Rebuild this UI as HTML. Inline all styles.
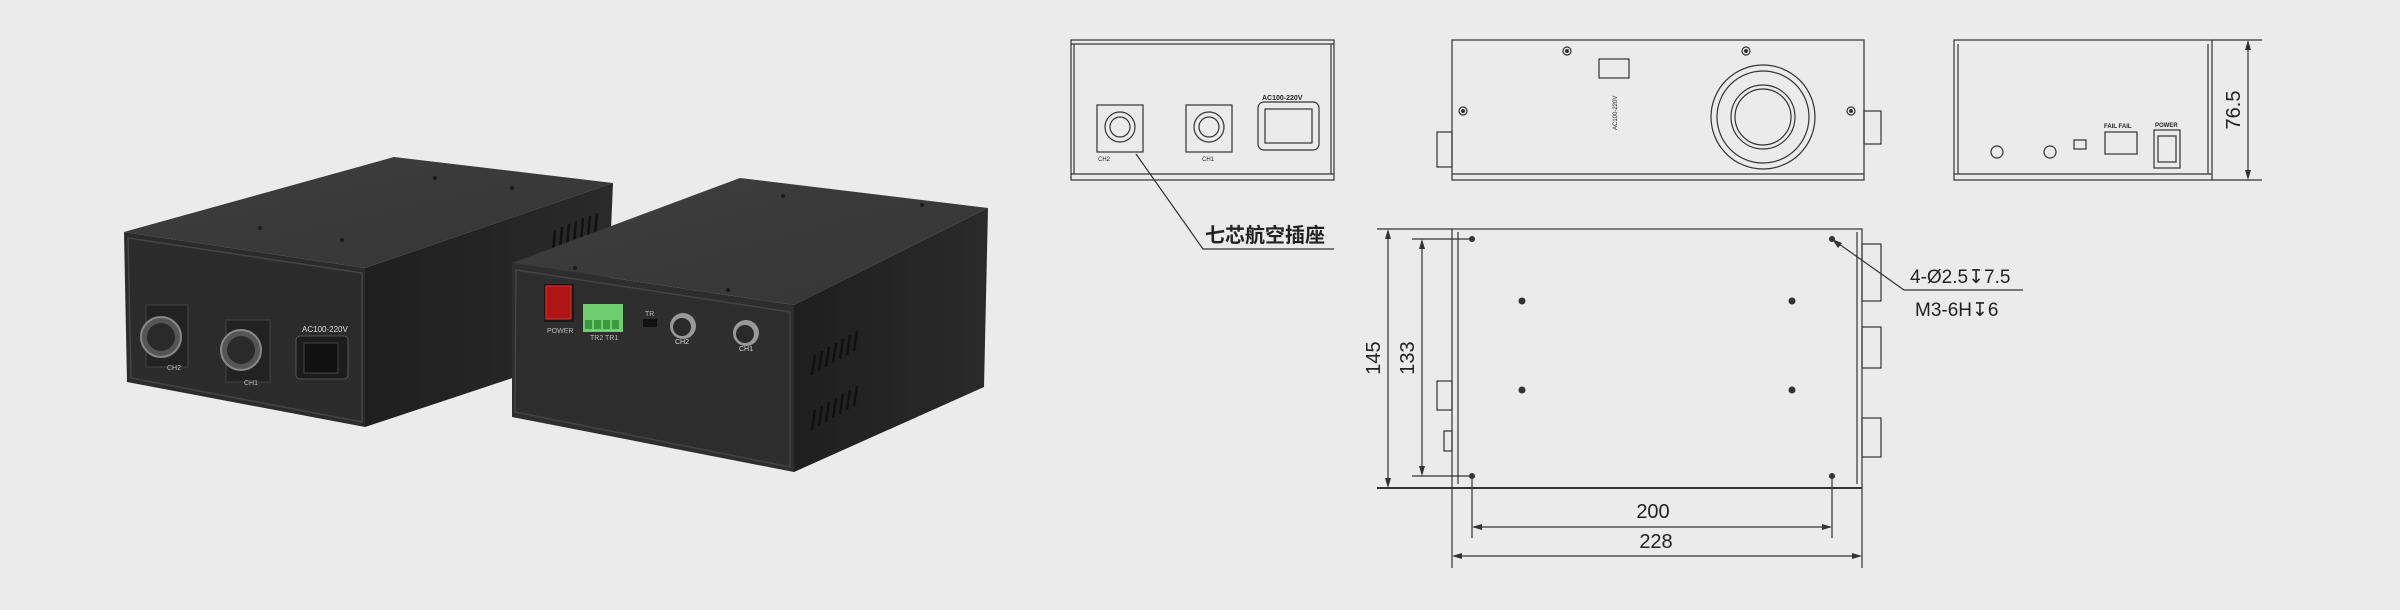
<!DOCTYPE html>
<html><head><meta charset="utf-8"><style>
html,body{margin:0;padding:0;background:#ebebeb;}
svg{display:block}
text{font-family:"Liberation Sans","Noto Sans CJK SC",sans-serif;}
</style></head><body>
<svg width="2400" height="610" viewBox="0 0 2400 610" xmlns="http://www.w3.org/2000/svg">
<defs>
<linearGradient id="topg" x1="0" y1="0" x2="1" y2="1"><stop offset="0" stop-color="#3e3e3e"/><stop offset="1" stop-color="#353535"/></linearGradient>
<linearGradient id="sideg" x1="0" y1="0" x2="1" y2="0"><stop offset="0" stop-color="#1f1f1f"/><stop offset="1" stop-color="#2a2a2a"/></linearGradient>
</defs>
<rect width="2400" height="610" fill="#ebebeb"/>

<!-- Box 1 -->
<polygon points="124,232 394,157 613,183 365,268" fill="url(#topg)"/>
<polygon points="365,268 613,183 606,347 365,427" fill="url(#sideg)"/>
<polygon points="124,232 365,268 365,427 127,382" fill="#2b2b2b"/>
<polygon points="128,238 362,273 362,422 131,378" fill="none" stroke="#444" stroke-width="1.5"/>
<g fill="#1a1a1a">
<circle cx="435" cy="178" r="2"/><circle cx="512" cy="188" r="2"/><circle cx="260" cy="228" r="2"/><circle cx="342" cy="240" r="2"/>
</g>
<g stroke="#111" stroke-width="2.5">
<line x1="555" y1="230" x2="553" y2="252"/><line x1="562" y1="227" x2="560" y2="249"/><line x1="569" y1="224" x2="567" y2="246"/><line x1="576" y1="221" x2="574" y2="243"/><line x1="583" y1="218" x2="581" y2="240"/><line x1="590" y1="216" x2="588" y2="238"/><line x1="597" y1="213" x2="595" y2="235"/>
</g>
<rect x="146" y="305" width="42" height="62" fill="#222" stroke="#444"/>
<circle cx="161" cy="337" r="20" fill="#555" stroke="#888" stroke-width="2"/>
<circle cx="161" cy="337" r="14" fill="#2a2a2a"/>
<rect x="226" y="320" width="44" height="62" fill="#222" stroke="#444"/>
<circle cx="241" cy="350" r="20" fill="#555" stroke="#888" stroke-width="2"/>
<circle cx="241" cy="350" r="14" fill="#2a2a2a"/>
<text x="167" y="370" font-size="7" fill="#bbb">CH2</text>
<text x="244" y="385" font-size="7" fill="#bbb">CH1</text>
<text x="302" y="332" font-size="8" fill="#ddd">AC100-220V</text>
<rect x="296" y="336" width="52" height="43" rx="4" fill="#1c1c1c" stroke="#555"/>
<rect x="304" y="343" width="34" height="30" fill="#111" stroke="#444"/>

<!-- Box 2 -->
<polygon points="512,263 740,178 988,208 794,305" fill="url(#topg)"/>
<polygon points="794,305 988,208 984,387 794,472" fill="url(#sideg)"/>
<polygon points="512,263 794,305 794,472 512,417" fill="#2e2e2e"/>
<polygon points="516,270 790,312 790,467 515,412" fill="none" stroke="#444" stroke-width="1.5"/>
<g fill="#1a1a1a"><circle cx="783" cy="196" r="2"/><circle cx="922" cy="205" r="2"/><circle cx="575" cy="268" r="2"/><circle cx="728" cy="290" r="2"/></g>
<g stroke="#111" stroke-width="2.5">
<line x1="815" y1="355" x2="812" y2="375"/><line x1="822" y1="351" x2="819" y2="371"/><line x1="829" y1="347" x2="826" y2="367"/><line x1="836" y1="343" x2="833" y2="363"/><line x1="843" y1="339" x2="840" y2="359"/><line x1="850" y1="335" x2="847" y2="355"/><line x1="857" y1="331" x2="854" y2="351"/>
<line x1="815" y1="410" x2="812" y2="430"/><line x1="822" y1="406" x2="819" y2="426"/><line x1="829" y1="402" x2="826" y2="422"/><line x1="836" y1="398" x2="833" y2="418"/><line x1="843" y1="394" x2="840" y2="414"/><line x1="850" y1="390" x2="847" y2="410"/><line x1="857" y1="386" x2="854" y2="406"/>
</g>
<rect x="544" y="284" width="30" height="38" fill="#1a1a1a"/>
<rect x="546" y="286" width="25" height="33" fill="#b01515" stroke="#d33"/>
<text x="547" y="333" font-size="7" fill="#bbb">POWER</text>
<rect x="583" y="304" width="40" height="28" fill="#6fcf70"/>
<g fill="#3a9a40"><rect x="585" y="320" width="7" height="9"/><rect x="594" y="320" width="7" height="9"/><rect x="603" y="320" width="7" height="9"/><rect x="612" y="320" width="7" height="9"/></g>
<text x="590" y="340" font-size="7" fill="#bbb">TR2   TR1</text>
<text x="645" y="316" font-size="7" fill="#bbb">TR</text>
<rect x="643" y="319" width="14" height="8" fill="#111"/>
<circle cx="683" cy="326" r="13" fill="#999"/><circle cx="682" cy="327" r="9" fill="#2a2a2a"/>
<text x="675" y="344" font-size="7" fill="#ddd">CH2</text>
<circle cx="746" cy="333" r="13" fill="#999"/><circle cx="745" cy="334" r="9" fill="#2a2a2a"/>
<text x="739" y="351" font-size="7" fill="#ddd">CH1</text>

<!-- DRAWINGS -->
<g fill="none" stroke="#333" stroke-width="1.2">
<rect x="1071" y="40" width="263" height="140"/>
<line x1="1071" y1="44" x2="1334" y2="44"/><line x1="1074" y1="44" x2="1074" y2="174"/><line x1="1331" y1="44" x2="1331" y2="174"/>
<line x1="1071" y1="174" x2="1334" y2="174"/>
<rect x="1097" y="105" width="46" height="47"/>
<circle cx="1120" cy="127" r="15"/><circle cx="1120" cy="127" r="10"/>
<rect x="1186" y="105" width="46" height="47"/>
<circle cx="1209" cy="127" r="15"/><circle cx="1209" cy="127" r="10"/>
<rect x="1258" y="102" width="61" height="48" rx="6"/>
<rect x="1265" y="109" width="47" height="34"/>
<polyline points="1136,154 1203,249 1334,249"/>
<rect x="1452" y="40" width="412" height="140"/>
<line x1="1452" y1="174" x2="1864" y2="174"/>
<circle cx="1763" cy="117" r="52"/><circle cx="1763" cy="117" r="46"/><circle cx="1763" cy="117" r="32"/><circle cx="1763" cy="117" r="28"/>
<rect x="1599" y="59" width="30" height="19"/>
<rect x="1437" y="132" width="15" height="35"/>
<rect x="1864" y="111" width="17" height="33"/>
<circle cx="1567" cy="51" r="4"/><circle cx="1746" cy="51" r="4"/><circle cx="1463" cy="111" r="4"/><circle cx="1851" cy="111" r="4"/>
<rect x="1954" y="40" width="258" height="140"/>
<line x1="1954" y1="174" x2="2212" y2="174"/><line x1="1958" y1="44" x2="1958" y2="174"/><line x1="2208" y1="44" x2="2208" y2="174"/>
<circle cx="1997" cy="152" r="6"/><circle cx="2050" cy="152" r="6"/>
<rect x="2074" y="140" width="12" height="9"/>
<rect x="2105" y="132" width="32" height="22"/>
<rect x="2154" y="130" width="26" height="38"/><rect x="2158" y="136" width="18" height="26"/>
<line x1="2212" y1="40" x2="2262" y2="40"/><line x1="2212" y1="180" x2="2262" y2="180"/>
<line x1="2248" y1="42" x2="2248" y2="178"/>
<rect x="1452" y="229" width="410" height="259"/>
<line x1="1377" y1="229" x2="1452" y2="229"/>
<line x1="1377" y1="488" x2="1452" y2="488" stroke-width="2"/>
<line x1="1452" y1="488" x2="1862" y2="488" stroke-width="2"/>
<line x1="1458" y1="232" x2="1458" y2="484"/><line x1="1857" y1="232" x2="1857" y2="484"/>
<line x1="1388" y1="231" x2="1388" y2="486"/>
<line x1="1412" y1="239" x2="1472" y2="239"/><line x1="1412" y1="476" x2="1472" y2="476"/>
<line x1="1422" y1="241" x2="1422" y2="474"/>
<rect x="1862" y="244" width="19" height="57"/><rect x="1862" y="327" width="19" height="41"/><rect x="1862" y="418" width="19" height="39"/>
<rect x="1437" y="381" width="15" height="29"/><rect x="1444" y="431" width="8" height="20"/>
<line x1="1472" y1="476" x2="1472" y2="538"/><line x1="1832" y1="476" x2="1832" y2="538"/>
<line x1="1452" y1="488" x2="1452" y2="568"/><line x1="1862" y1="488" x2="1862" y2="568"/>
<line x1="1474" y1="527" x2="1830" y2="527"/>
<line x1="1454" y1="556" x2="1860" y2="556"/>
<polyline points="1832,239 1904,290 2023,290"/>
</g>
<g fill="#333">
<polygon points="2248,40 2245,50 2251,50"/><polygon points="2248,180 2245,170 2251,170"/>
<polygon points="1388,229 1385,239 1391,239"/><polygon points="1388,488 1385,478 1391,478"/>
<polygon points="1422,239 1419,249 1425,249"/><polygon points="1422,476 1419,466 1425,466"/>
<polygon points="1472,527 1482,524 1482,530"/><polygon points="1832,527 1822,524 1822,530"/>
<polygon points="1452,556 1462,553 1462,559"/><polygon points="1862,556 1852,553 1852,559"/>
<polygon points="1832,239 1838,248 1842,243"/>
<circle cx="1472" cy="239" r="3"/><circle cx="1832" cy="239" r="3"/><circle cx="1472" cy="476" r="3"/><circle cx="1832" cy="476" r="3"/>
<circle cx="1522" cy="301" r="3.5"/><circle cx="1792" cy="301" r="3.5"/><circle cx="1522" cy="390" r="3.5"/><circle cx="1792" cy="390" r="3.5"/>
<circle cx="1567" cy="51" r="2"/><circle cx="1746" cy="51" r="2"/><circle cx="1463" cy="111" r="2"/><circle cx="1851" cy="111" r="2"/>
</g>
<g fill="#222">
<text x="1098" y="161" font-size="6">CH2</text><text x="1202" y="161" font-size="6">CH1</text>
<text x="1262" y="100" font-size="7" font-weight="bold">AC100-220V</text>
<text x="2104" y="128" font-size="6" font-weight="bold">FAIL  FAIL</text>
<text x="2155" y="127" font-size="6" font-weight="bold">POWER</text>
<text transform="translate(1617,130) rotate(-90)" font-size="6">AC100-220V</text>
<text x="1205" y="242" font-size="20" font-weight="bold">七芯航空插座</text>
<text x="1910" y="283" font-size="19">4-Ø2.5↧7.5</text>
<text x="1915" y="316" font-size="19">M3-6H↧6</text>
<text x="1653" y="518" font-size="20" text-anchor="middle">200</text>
<text x="1656" y="548" font-size="20" text-anchor="middle">228</text>
<text transform="translate(1380,358) rotate(-90)" font-size="20" text-anchor="middle">145</text>
<text transform="translate(1414,358) rotate(-90)" font-size="20" text-anchor="middle">133</text>
<text transform="translate(2240,110) rotate(-90)" font-size="20" text-anchor="middle">76.5</text>
</g>
</svg>
</body></html>
